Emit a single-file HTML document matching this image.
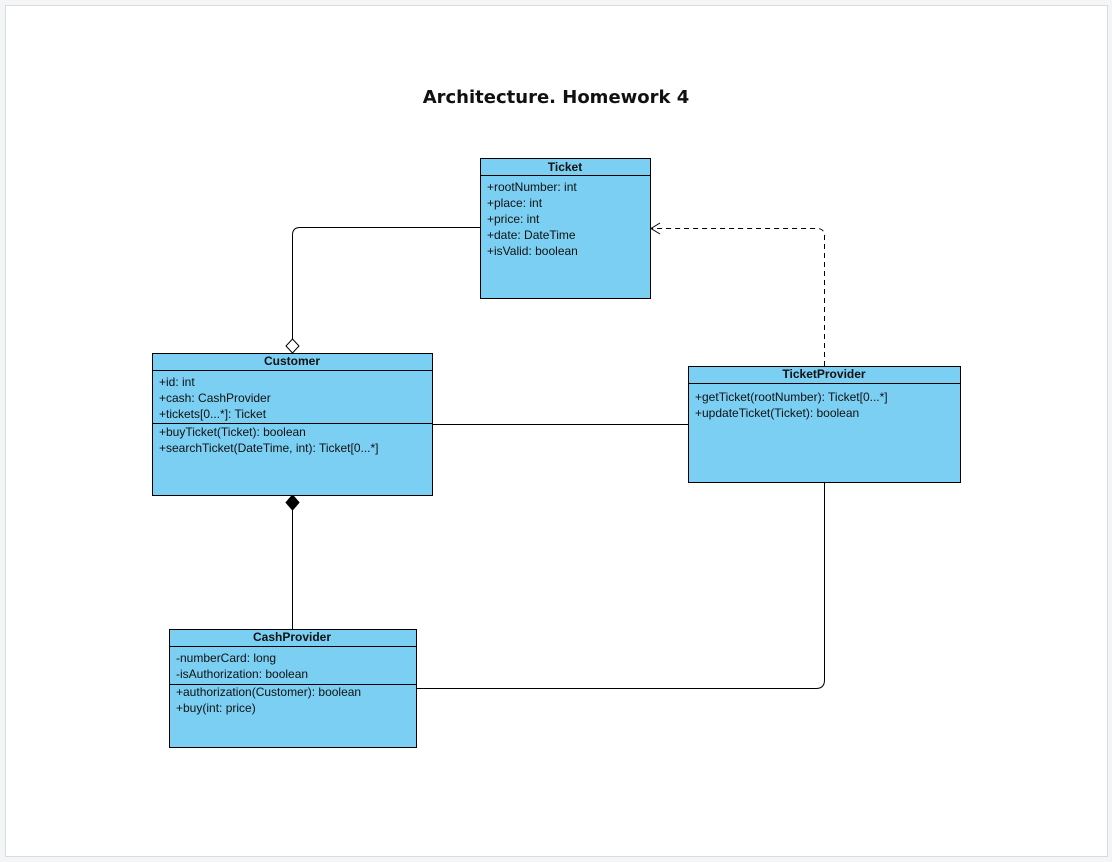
<!DOCTYPE html>
<html><head><style>
html,body{margin:0;padding:0;background:#f3f5f6;}
svg{display:block;font-family:"Liberation Sans",Arial,sans-serif;}
</style></head><body>
<svg width="1112" height="862" viewBox="0 0 1112 862">
<rect x="0" y="0" width="1112" height="862" fill="#f3f5f6"/>
<rect x="5.5" y="5.5" width="1102" height="851" fill="#fff" stroke="#d8dcde"/>
<text x="556" y="103" text-anchor="middle" font-size="18" font-weight="bold" fill="#111" style="font-family:'DejaVu Sans',sans-serif">Architecture. Homework 4</text>
<g fill="none" stroke="#000" stroke-width="1">
<path d="M480 227.5 H300 Q292.5 227.5 292.5 235 V339"/>
<path d="M292.5 510 V629"/>
<path d="M432 424.5 H688"/>
<path d="M824.5 366 V236 Q824.5 228.5 817 228.5 H652" stroke-dasharray="5,4"/>
<path d="M660 223 L651 228.5 L660 234"/>
<path d="M824.5 482 V680 Q824.5 688.5 816 688.5 H416"/>
</g>
<path d="M292.5 339 L299 346 L292.5 353 L286 346 Z" fill="#fff" stroke="#000"/>
<path d="M292.5 495 L299 502.5 L292.5 510 L286 502.5 Z" fill="#000" stroke="#000"/>
<g stroke="#000" fill="#7acff3">
<rect x="480.5" y="158.5" width="170" height="140"/>
<line x1="480.5" y1="175.5" x2="650.5" y2="175.5"/>
<rect x="152.5" y="353.5" width="280" height="142"/>
<line x1="152.5" y1="370.5" x2="432.5" y2="370.5"/>
<line x1="152.5" y1="423.5" x2="432.5" y2="423.5"/>
<rect x="688.5" y="366.5" width="272" height="116"/>
<line x1="688.5" y1="383.5" x2="960.5" y2="383.5"/>
<rect x="169.5" y="629.5" width="247" height="118"/>
<line x1="169.5" y1="646.5" x2="416.5" y2="646.5"/>
<line x1="169.5" y1="684.5" x2="416.5" y2="684.5"/>
</g>
<g font-size="12" fill="#111">
<text x="565" y="171" text-anchor="middle" font-weight="bold">Ticket</text>
<text x="487" y="191">+rootNumber: int</text>
<text x="487" y="207">+place: int</text>
<text x="487" y="223">+price: int</text>
<text x="487" y="239">+date: DateTime</text>
<text x="487" y="255">+isValid: boolean</text>
<text x="292" y="365" text-anchor="middle" font-weight="bold">Customer</text>
<text x="159" y="386">+id: int</text>
<text x="159" y="402">+cash: CashProvider</text>
<text x="159" y="418">+tickets[0...*]: Ticket</text>
<text x="159" y="436">+buyTicket(Ticket): boolean</text>
<text x="159" y="452">+searchTicket(DateTime, int): Ticket[0...*]</text>
<text x="824" y="378" text-anchor="middle" font-weight="bold">TicketProvider</text>
<text x="695" y="401">+getTicket(rootNumber): Ticket[0...*]</text>
<text x="695" y="417">+updateTicket(Ticket): boolean</text>
<text x="292" y="641" text-anchor="middle" font-weight="bold">CashProvider</text>
<text x="176" y="662">-numberCard: long</text>
<text x="176" y="678">-isAuthorization: boolean</text>
<text x="176" y="696">+authorization(Customer): boolean</text>
<text x="176" y="712">+buy(int: price)</text>
</g>
</svg>
</body></html>
